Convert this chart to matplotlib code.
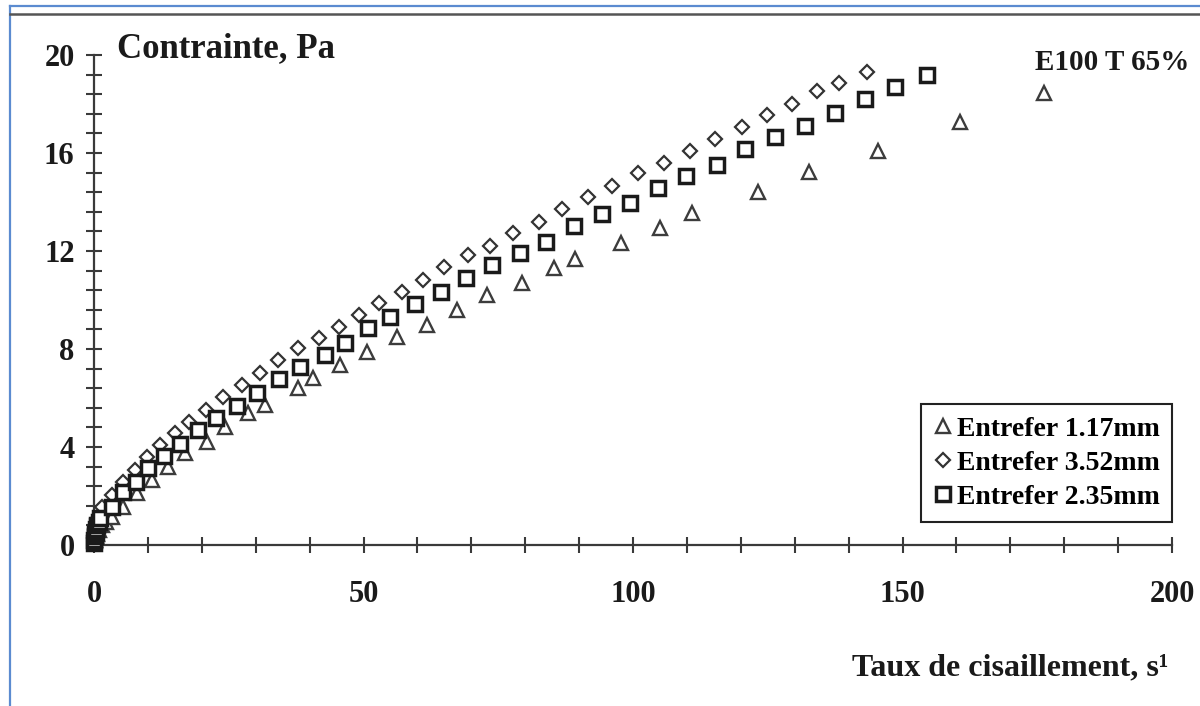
import matplotlib
matplotlib.use("Agg")
import matplotlib.pyplot as plt
from matplotlib.ticker import MultipleLocator
from matplotlib.lines import Line2D

plt.rcParams['font.family'] = ['Liberation Serif', 'DejaVu Serif']
plt.rcParams['font.weight'] = 'bold'

# Entrefer 1.17mm (triangles)
tri_x = [0.1, 0.2, 0.4, 0.5, 0.9, 1.5, 2.2, 3.3, 5.4, 8.0, 10.8, 13.7, 16.9, 21.0, 24.3, 28.6, 31.8,
         37.9, 40.7, 45.7, 50.6, 56.3, 61.8, 67.4, 73.0, 79.4, 85.3, 89.3, 97.7, 105.0,
         111.0, 123.1, 132.6, 145.4, 160.7, 176.3]
tri_y = [0.2, 0.3, 0.38, 0.45, 0.6, 0.8, 0.95, 1.14, 1.55, 2.12, 2.65, 3.18, 3.76, 4.2, 4.82, 5.39, 5.71,
         6.41, 6.82, 7.35, 7.89, 8.49, 9.0, 9.6, 10.2, 10.71, 11.29, 11.66, 12.34, 12.93,
         13.54, 14.42, 15.24, 16.1, 17.28, 18.44]

# Entrefer 3.52mm (diamonds)
dia_x = [0.05, 0.1, 0.2, 0.3, 0.6, 1.4, 3.3, 5.4, 7.6, 9.8, 12.3, 15.0, 17.7, 20.8, 24.0, 27.4, 30.8,
         34.2, 37.8, 41.7, 45.4, 49.1, 52.8, 57.1, 61.0, 65.0, 69.4, 73.4, 77.8, 82.6, 86.9,
         91.7, 96.1, 101.0, 105.7, 110.5, 115.3, 120.3, 124.9, 129.5, 134.2, 138.2, 143.4]
dia_y = [0.3, 0.5, 0.62, 0.75, 1.05, 1.56, 2.04, 2.58, 3.06, 3.6, 4.08, 4.56, 5.03, 5.51, 6.05, 6.53, 7.01,
         7.55, 8.03, 8.44, 8.89, 9.39, 9.87, 10.34, 10.82, 11.36, 11.84, 12.22, 12.73, 13.2, 13.71,
         14.2, 14.65, 15.18, 15.59, 16.08, 16.56, 17.07, 17.55, 18.0, 18.54, 18.84, 19.32]

# Entrefer 2.35mm (squares)
sq_x = [0.02, 0.05, 0.1, 0.2, 0.3, 0.45, 0.6, 0.9, 1.2, 3.3, 5.4, 7.8, 10.1, 13.0, 16.0, 19.3, 22.6, 26.5, 30.2, 34.4,
        38.3, 42.8, 46.6, 50.8, 55.0, 59.6, 64.3, 69.1, 73.8, 79.1, 83.9, 89.0, 94.3, 99.4,
        104.7, 109.9, 115.5, 120.8, 126.3, 131.9, 137.5, 143.0, 148.6, 154.6]
sq_y = [0.1, 0.2, 0.35, 0.45, 0.55, 0.65, 0.8, 0.95, 1.09, 1.56, 2.18, 2.58, 3.13, 3.63, 4.12, 4.69, 5.17, 5.67, 6.19, 6.76,
        7.28, 7.76, 8.26, 8.84, 9.32, 9.84, 10.34, 10.91, 11.43, 11.91, 12.38, 13.02, 13.5, 13.97,
        14.56, 15.06, 15.51, 16.16, 16.64, 17.11, 17.62, 18.2, 18.68, 19.18]

labels = ["Entrefer 1.17mm", "Entrefer 3.52mm", "Entrefer 2.35mm"]
x_ticks = [0, 50, 100, 150, 200]
y_ticks = [0, 4, 8, 12, 16, 20]

W, H = 1200, 706
fig = plt.figure(figsize=(W / 100, H / 100), dpi=100)
fig.patch.set_facecolor('white')

ax = fig.add_axes([94 / W, (H - 545) / H, (1172 - 94) / W, (545 - 55) / H])
ax.set_xlim(0, 200)
ax.set_ylim(0, 20)

tc = '#3a3a3a'
h1, = ax.plot(tri_x, tri_y, linestyle='none', marker='^', ms=10.5, mfc='white', mec='#3c3c3c',
              mew=1.7, clip_on=False, zorder=3)
h2, = ax.plot(dia_x, dia_y, linestyle='none', marker='D', ms=7.4, mfc='white', mec='#333333',
              mew=1.6, clip_on=False, zorder=4)
h3, = ax.plot(sq_x, sq_y, linestyle='none', marker='s', ms=10.5, mfc='white', mec='#1a1a1a',
              mew=2.5, clip_on=False, zorder=5)

for s in ['top', 'right']:
    ax.spines[s].set_visible(False)
for s in ['left', 'bottom']:
    ax.spines[s].set_color(tc)
    ax.spines[s].set_linewidth(1.6)

ax.set_xticks(x_ticks)
ax.set_yticks(y_ticks)
ax.xaxis.set_minor_locator(MultipleLocator(10))
ax.yaxis.set_minor_locator(MultipleLocator(0.8))
ax.tick_params(axis='both', which='both', direction='inout', length=12, width=1.5, color=tc)
ax.tick_params(axis='y', which='major', labelsize=22, pad=8, labelcolor='#1a1a1a')
ax.tick_params(axis='x', which='major', labelsize=22, pad=19, labelcolor='#1a1a1a')
for lab in ax.get_xticklabels() + ax.get_yticklabels():
    lab.set_fontweight('bold')

fig.text(117 / W, (H - 57) / H, "Contrainte, Pa", fontsize=25, fontweight='bold',
         ha='left', va='baseline', color='#1a1a1a')
fig.text(1035 / W, (H - 70) / H, "E100 T 65%", fontsize=21, fontweight='bold',
         ha='left', va='baseline', color='#1a1a1a')
fig.text(1168 / W, (H - 675) / H, "Taux de cisaillement, s¹", fontsize=23, fontweight='bold',
         ha='right', va='baseline', color='#1a1a1a')

leg = ax.legend([h1, h2, h3], labels, loc='upper right',
                bbox_to_anchor=(1172 / W, (H - 404) / H), bbox_transform=fig.transFigure,
                prop={'family': 'Liberation Serif', 'weight': 'bold', 'size': 20},
                frameon=True, fancybox=False, framealpha=1, edgecolor='#222222',
                handlelength=0.7, handletextpad=0.15, borderpad=0.45, labelspacing=0.3,
                borderaxespad=0, markerscale=0.9)
leg.get_frame().set_linewidth(1.5)

# document frame lines
fig.add_artist(Line2D([9.5 / W, 9.5 / W], [0, (H - 6) / H], color='#5b8bd0', lw=1.6,
                      transform=fig.transFigure))
fig.add_artist(Line2D([9.5 / W, 1], [(H - 6) / H, (H - 6) / H], color='#5b8bd0', lw=1.6,
                      transform=fig.transFigure))
fig.add_artist(Line2D([10 / W, 1], [(H - 14) / H, (H - 14) / H], color='#555555', lw=1.8,
                      transform=fig.transFigure))

fig.savefig("out.png", dpi=100, facecolor='white')
